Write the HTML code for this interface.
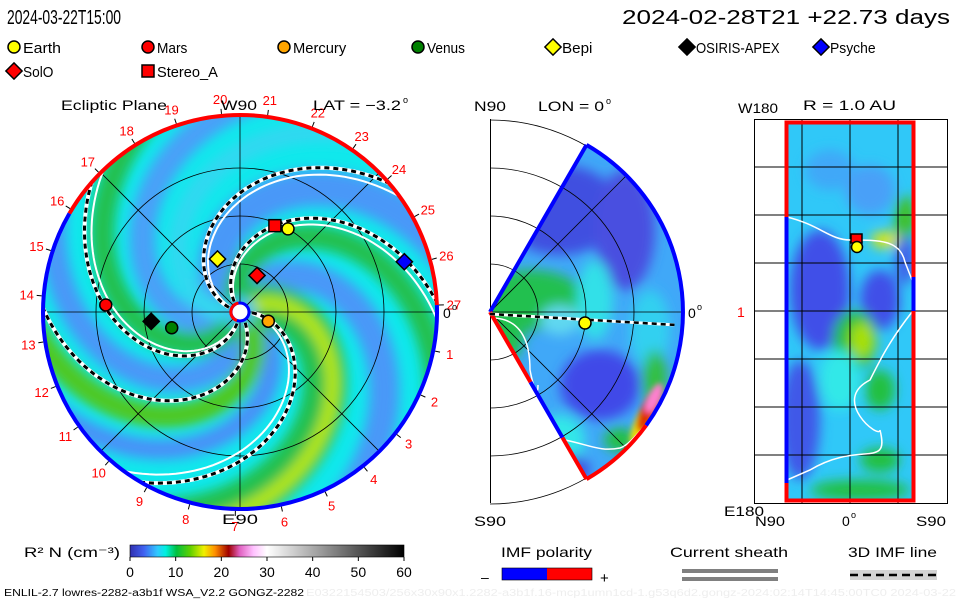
<!DOCTYPE html>
<html><head><meta charset="utf-8">
<style>
html,body{margin:0;padding:0;background:#fff;overflow:hidden;}
svg{display:block;font-family:"Liberation Sans",sans-serif;}
</style></head>
<body>
<svg id="root" width="960" height="600" viewBox="0 0 960 600" xmlns="http://www.w3.org/2000/svg">
<defs>
  <clipPath id="diskClip"><circle cx="240" cy="312" r="197"/></clipPath>
  <clipPath id="wedgeClip"><path id="wedgePathClip" d=""/></clipPath>
  <clipPath id="rectClip"><rect x="785" y="122" width="129" height="379"/></clipPath>
  <filter id="blur6" x="-20%" y="-20%" width="140%" height="140%"><feGaussianBlur stdDeviation="6"/></filter>
  <filter id="blur3" x="-20%" y="-20%" width="140%" height="140%"><feGaussianBlur stdDeviation="3"/></filter>
  <linearGradient id="cbar" x1="0" x2="1" y1="0" y2="0">
    <stop offset="0" stop-color="#3030b0"/>
    <stop offset="0.05" stop-color="#4060f0"/>
    <stop offset="0.1" stop-color="#30c8ff"/>
    <stop offset="0.13" stop-color="#00f0e0"/>
    <stop offset="0.17" stop-color="#00c040"/>
    <stop offset="0.22" stop-color="#60d000"/>
    <stop offset="0.27" stop-color="#f0f000"/>
    <stop offset="0.31" stop-color="#ff9000"/>
    <stop offset="0.36" stop-color="#a00000"/>
    <stop offset="0.40" stop-color="#e060c0"/>
    <stop offset="0.45" stop-color="#ffc0ff"/>
    <stop offset="0.50" stop-color="#ffffff"/>
    <stop offset="1" stop-color="#000000"/>
  </linearGradient>
</defs>

<text x="7" y="24" font-size="20" textLength="114" lengthAdjust="spacingAndGlyphs">2024-03-22T15:00</text>
<text x="622" y="24" font-size="20" textLength="328" lengthAdjust="spacingAndGlyphs">2024-02-28T21 +22.73 days</text>
<g id="legend"></g>

<g id="ecl">
  <g clip-path="url(#diskClip)" id="eclBg">
    <circle cx="240" cy="312" r="197" fill="#10e8ec"/>
    <g id="eclBands" filter="url(#blur6)"></g>
  </g>
  <g id="eclGrid"></g>
  <g id="eclLines" clip-path="url(#diskClip)"></g>
  <g id="eclRim"></g>
  <g id="eclLabels" font-size="13" fill="#f00"></g>
  <g id="eclMarks"></g>
  <text x="61" y="110" font-size="14" textLength="106" lengthAdjust="spacingAndGlyphs">Ecliptic Plane</text>
  <text x="221" y="110" font-size="14" textLength="36" lengthAdjust="spacingAndGlyphs">W90</text>
  <text x="313" y="110" font-size="14" textLength="88" lengthAdjust="spacingAndGlyphs">LAT = −3.2</text>
  <text x="403" y="103" font-size="9">o</text>
  <text x="222" y="524" font-size="14" textLength="36" lengthAdjust="spacingAndGlyphs">E90</text>
  <text x="443" y="318" font-size="14">0</text>
  <text x="452" y="310" font-size="9">o</text>
</g>

<g id="mer">
  <rect x="490" y="119" width="1" height="384" fill="#000"/>
  <g id="merArcs"></g>
  <g clip-path="url(#wedgeClip)">
    <rect x="480" y="120" width="220" height="380" fill="#40a8f8"/>
    <g id="merBlobs" filter="url(#blur6)"></g>
    <g id="merHot" filter="url(#blur3)"></g>
  </g>
  <g id="merGrid" clip-path="url(#wedgeClip)"></g>
  <g id="merRim"></g>
  <text x="474" y="111" font-size="14" textLength="32" lengthAdjust="spacingAndGlyphs">N90</text>
  <text x="538" y="111" font-size="14" textLength="66" lengthAdjust="spacingAndGlyphs">LON = 0</text>
  <text x="606" y="104" font-size="9">o</text>
  <text x="474" y="526" font-size="14" textLength="32" lengthAdjust="spacingAndGlyphs">S90</text>
  <text x="688" y="318" font-size="14">0</text>
  <text x="697" y="310" font-size="9">o</text>
</g>

<g id="ll">
  <rect x="754.5" y="119.5" width="193" height="384" fill="none" stroke="#000"/>
  <g clip-path="url(#rectClip)">
    <rect x="785" y="122" width="129" height="379" fill="#30c8f8"/>
    <g id="llBlobs" filter="url(#blur6)"></g>
  </g>
  <g id="llGrid"></g>
  <g id="llRim"></g>
  <text x="738" y="113" font-size="14" textLength="40" lengthAdjust="spacingAndGlyphs">W180</text>
  <text x="803" y="110" font-size="14" textLength="93" lengthAdjust="spacingAndGlyphs">R = 1.0 AU</text>
  <text x="724" y="516" font-size="14" textLength="40" lengthAdjust="spacingAndGlyphs">E180</text>
  <text x="755" y="526" font-size="14" textLength="30" lengthAdjust="spacingAndGlyphs">N90</text>
  <text x="842" y="526" font-size="14">0</text>
  <text x="851" y="518" font-size="9">o</text>
  <text x="916" y="526" font-size="14" textLength="30" lengthAdjust="spacingAndGlyphs">S90</text>
  <text x="737" y="317" font-size="14" fill="#f00">1</text>
</g>

<g>
  <text x="24" y="557" font-size="14" textLength="96" lengthAdjust="spacingAndGlyphs">R² N (cm⁻³)</text>
  <rect x="130" y="545" width="274" height="12" fill="url(#cbar)" stroke="#000" stroke-width="0.6"/>
  <g id="cbTicks" font-size="14" text-anchor="middle"></g>
</g>

<g>
  <text x="501" y="557" font-size="14" textLength="91" lengthAdjust="spacingAndGlyphs">IMF polarity</text>
  <text x="481" y="582" font-size="14">–</text>
  <rect x="502" y="568" width="45" height="12" fill="#00f"/>
  <rect x="547" y="568" width="45" height="12" fill="#f00"/>
  <rect x="502" y="568" width="90" height="12" fill="none" stroke="#000" stroke-width="0.6"/>
  <text x="600" y="583" font-size="15">+</text>
</g>
<g>
  <text x="670" y="557" font-size="14" textLength="118" lengthAdjust="spacingAndGlyphs">Current sheath</text>
  <rect x="682" y="569" width="96" height="4" fill="#808080"/>
  <rect x="682" y="577" width="96" height="4" fill="#808080"/>
</g>
<g>
  <text x="848" y="557" font-size="14" textLength="89" lengthAdjust="spacingAndGlyphs">3D IMF line</text>
  <rect x="850" y="570" width="87" height="10" fill="#d3d3d3"/>
  <line x1="850" y1="575" x2="937" y2="575" stroke="#000" stroke-width="2.5" stroke-dasharray="8,5"/>
</g>
<text x="4" y="596" font-size="10" textLength="300" lengthAdjust="spacingAndGlyphs">ENLIL-2.7 lowres-2282-a3b1f WSA_V2.2 GONGZ-2282</text>
<text x="306" y="596" font-size="10" fill="#eeeeee" textLength="650" lengthAdjust="spacingAndGlyphs">E0322154503/256x30x90x1.2282-a3b1f.16-mcp1umn1cd-1.g53q6d2.gongz-2024:02:14T14:45:00TC0   2024-03-22</text>
</svg>

<script>
// ---- data ----
const cbTickValues = [0, 10, 20, 30, 40, 50, 60];
const cbMax = 60;
const legendNames = ["Earth","Mars","Mercury","Venus","Bepi","OSIRIS-APEX","Psyche","SolO","Stereo_A"];
const legendShapes = ["circle","circle","circle","circle","diamond","diamond","diamond","diamond","square"];
const legendColors = ["#ffff00","#ff0000","#ffa500","#008000","#ffff00","#000000","#0000ff","#ff0000","#ff0000"];
const bodyRadiusAU = [1.00, 1.40, 0.31, 0.73, 0.60, 0.93, 1.79, 0.42, 0.97];
const bodyAngleDeg = [60, 177, -18, 193, 113, 186, 17, 65, 68];
const rimLabels = [1,2,3,4,5,6,7,8,9,10,11,12,13,14,15,16,17,18,19,20,21,22,23,24,25,26,27];
const eclCirclesAU = [0.5, 1.0, 1.5];
const imfArmStartDeg = [-127, -165, -4, 97, 57];
const sheathArmStartDeg = [-122, -160, 2, 102];
const merCirclesAU = [0.5, 1.0, 1.5, 2.0];

// ---- helpers ----
const NS = "http://www.w3.org/2000/svg";
function mk(tag, attrs, parent){const e=document.createElementNS(NS,tag);for(const k in attrs)e.setAttribute(k,attrs[k]);parent.appendChild(e);return e;}
const CX=240, CY=312, R=197, PXAU=96, K=0.011;
function xAU(rAU,deg){return CX + rAU*PXAU*Math.cos(deg*Math.PI/180);}
function yAU(rAU,deg){return CY - rAU*PXAU*Math.sin(deg*Math.PI/180);}
function spiral(th0deg, r0, r1){
  let d="";
  for(let r=r0;r<=r1;r+=3){const t=th0deg*Math.PI/180 + K*r;d+=(d?"L":"M")+(CX+r*Math.cos(t)).toFixed(1)+","+(CY+r*Math.sin(t)).toFixed(1);}
  return d;
}
function P(cx,cy,r,a){return (cx+r*Math.cos(a*Math.PI/180)).toFixed(1)+","+(cy-r*Math.sin(a*Math.PI/180)).toFixed(1);}
function arcCW(cx,cy,r,a0,a1){return `M${P(cx,cy,r,a0)}A${r},${r} 0 ${(a0-a1)>180?1:0} 1 ${P(cx,cy,r,a1)}`;}

const leg=document.getElementById('legend');
legendNames.forEach((n,i)=>{
  const cols=[14,148,284,418,553,687,821];
  let x,y; if(i<7){x=cols[i];y=47;} else {x=cols[i-7];y=71;}
  const g=mk('g',{},leg);
  
  
  drawMarker(g, legendShapes[i], x, y, legendColors[i], 6);
  const t=mk('text',{x:x+9,y:y+6,'font-size':15},g); t.textContent=n;
  t.setAttribute('textLength', n.length*7.6); t.setAttribute('lengthAdjust','spacingAndGlyphs');
});
function drawMarker(g,shape,x,y,col,s){
  if(shape==='circle') return mk('circle',{cx:x,cy:y,r:s,fill:col,stroke:'#000','stroke-width':1.5},g);
  if(shape==='square') return mk('rect',{x:x-s,y:y-s,width:2*s,height:2*s,fill:col,stroke:'#000','stroke-width':1.5},g);
  const d=s*1.35; return mk('path',{d:`M${x},${y-d}L${x+d},${y}L${x},${y+d}L${x-d},${y}Z`,fill:col,stroke:'#000','stroke-width':1.5},g);
}

const bands=document.getElementById('eclBands');
const bandSpec=[[-150,'#4898f8',36],[-75,'#4898f8',30],[75,'#4898f8',26],[140,'#48a0f8',26],[20,'#4a90f8',20],
  [-30,'#20c050',44],[-112,'#20c050',24],[110,'#20c050',24],[45,'#50c820',24],[-36,'#b8e810',14],[170,'#30d8f0',20]];
bandSpec.forEach(b=>{mk('path',{d:spiral(b[0],0,280),fill:'none',stroke:b[1],'stroke-width':b[2],'stroke-linecap':'round'},bands);});
mk('circle',{cx:CX,cy:CY,r:16,fill:'#40c0f0'},bands);

const eg=document.getElementById('eclGrid');
eclCirclesAU.forEach(a=>mk('circle',{cx:CX,cy:CY,r:a*PXAU,fill:'none',stroke:'#000','stroke-width':0.8},eg));
[0,45,90,135].forEach(a=>{const c=Math.cos(a*Math.PI/180)*R,s=Math.sin(a*Math.PI/180)*R;mk('line',{x1:CX-c,y1:CY+s,x2:CX+c,y2:CY-s,stroke:'#000','stroke-width':0.8},eg);});

const el=document.getElementById('eclLines');
sheathArmStartDeg.forEach(a=>{mk('path',{d:spiral(a,12,260),fill:'none',stroke:'#fff','stroke-width':2},el);});
imfArmStartDeg.forEach(a=>{
  const p=spiral(a,12,260);
  mk('path',{d:p,fill:'none',stroke:'#fff','stroke-width':4},el);
  mk('path',{d:p,fill:'none',stroke:'#000','stroke-width':3,'stroke-dasharray':'5,4'},el);
});

const rim=document.getElementById('eclRim');
mk('path',{d:arcCW(CX,CY,R,150,2),fill:'none',stroke:'#f00','stroke-width':4},rim);
mk('path',{d:arcCW(CX,CY,R,2,-210),fill:'none',stroke:'#00f','stroke-width':4},rim);
mk('circle',{cx:CX,cy:CY,r:9,fill:'#fff',stroke:'#00f','stroke-width':3},rim);
mk('path',{d:arcCW(CX,CY,9,250,100),fill:'none',stroke:'#f00','stroke-width':3},rim);

const lab=document.getElementById('eclLabels');
rimLabels.forEach(n=>{
  const ang=(-n*13.333+2)*Math.PI/180;
  const t=mk('text',{x:(CX+214*Math.cos(ang)).toFixed(1),y:(CY-214*Math.sin(ang)+5).toFixed(1),'text-anchor':'middle'},lab);
  t.textContent=n;
  
  
  mk('line',{x1:CX+199*Math.cos(ang),y1:CY-199*Math.sin(ang),x2:CX+204*Math.cos(ang),y2:CY-204*Math.sin(ang),stroke:'#000','stroke-width':1},lab);
});

const marks=document.getElementById('eclMarks');
legendNames.forEach((n,i)=>{
  const m=drawMarker(marks,legendShapes[i],xAU(bodyRadiusAU[i],bodyAngleDeg[i]),yAU(bodyRadiusAU[i],bodyAngleDeg[i]),legendColors[i],6);
  
  
});

const MX=490,MY=312,MR=193;
const wedge=`M${MX},${MY}L${P(MX,MY,MR,60)}A${MR},${MR} 0 0 1 ${P(MX,MY,MR,-60)}Z`;
document.getElementById('wedgePathClip').setAttribute('d',wedge);
const ma=document.getElementById('merArcs');
merCirclesAU.forEach(a=>mk('path',{d:arcCW(MX,MY,a*PXAU,90,-90),fill:'none',stroke:'#000','stroke-width':0.8},ma));
const mb=document.getElementById('merBlobs');
[[560,210,60,45,'#4050e0'],[625,230,30,60,'#4850e0'],[530,300,55,30,'#20c050'],[500,330,25,35,'#20c050'],[560,320,20,15,'#60d8f0'],
 [595,300,18,40,'#30e0e8'],[650,330,20,40,'#30d0f0'],[600,385,40,35,'#4048e8'],[560,440,25,25,'#30e8e8'],[570,470,20,15,'#4050e0'],
 [620,440,16,12,'#20c040'],[655,380,12,30,'#30c040']].forEach(b=>mk('ellipse',{cx:b[0],cy:b[1],rx:b[2],ry:b[3],fill:b[4]},mb));
const mh=document.getElementById('merHot');
[[645,420,9,30,'#f0e000'],[650,408,8,26,'#e03000'],[654,398,6,16,'#ff80d0']].forEach(b=>mk('ellipse',{cx:b[0],cy:b[1],rx:b[2],ry:b[3],fill:b[4],transform:`rotate(25 ${b[0]} ${b[1]})`},mh));
const mg=document.getElementById('merGrid');
merCirclesAU.forEach(a=>mk('circle',{cx:MX,cy:MY,r:a*PXAU,fill:'none',stroke:'#000','stroke-width':0.8},mg));
[45,-45].forEach(a=>{mk('path',{d:`M${MX},${MY}L${P(MX,MY,MR,a)}`,stroke:'#000','stroke-width':0.8},mg);});
mk('line',{x1:MX,y1:MY,x2:700,y2:MY,stroke:'#000','stroke-width':0.8},mg);
mk('path',{d:'M495,318C520,320 530,340 530,370C535,395 538,395 538,385',fill:'none',stroke:'#fff','stroke-width':1.5},mg);
mk('path',{d:'M565,440C590,445 600,452 620,448C630,445 640,430 650,420',fill:'none',stroke:'#fff','stroke-width':1.5},mg);
const mr=document.getElementById('merRim');
mk('path',{d:`M${P(MX,MY,MR,60)}L${MX},${MY}`,stroke:'#00f','stroke-width':4,fill:'none'},mr);
mk('path',{d:`M${MX},${MY}L${P(MX,MY,81,-60)}`,stroke:'#f00','stroke-width':4,fill:'none'},mr);
mk('path',{d:`M${P(MX,MY,81,-60)}L${P(MX,MY,145,-60)}`,stroke:'#00f','stroke-width':4,fill:'none'},mr);
mk('path',{d:`M${P(MX,MY,145,-60)}L${P(MX,MY,MR,-60)}`,stroke:'#f00','stroke-width':4,fill:'none'},mr);
mk('path',{d:arcCW(MX,MY,MR,60,-36),stroke:'#00f','stroke-width':4,fill:'none'},mr);
mk('path',{d:arcCW(MX,MY,MR,-36,-60),stroke:'#f00','stroke-width':4,fill:'none'},mr);
mk('path',{d:`M${MX},${MY+2}L${P(MX,MY,MR-8,-4)}`,stroke:'#fff','stroke-width':3,fill:'none'},mr);
mk('path',{d:`M${MX},${MY+2}L${P(MX,MY,MR-8,-4)}`,stroke:'#000','stroke-width':2.5,'stroke-dasharray':'5,4',fill:'none'},mr);
mk('circle',{cx:585,cy:323,r:6,fill:'#ff0',stroke:'#000','stroke-width':1.5},mr);

const lb=document.getElementById('llBlobs');
[[820,290,30,60,'#4050e8'],[800,420,20,60,'#4058e8'],[880,300,20,30,'#4050e8'],[870,190,25,25,'#48a0f8'],[855,340,22,30,'#20c040'],[862,340,12,18,'#a8e000'],[880,390,15,20,'#20c040'],[885,240,14,8,'#e8e800'],[905,220,10,25,'#40c020'],[880,460,20,12,'#20c040'],[860,490,50,10,'#20c040'],[905,260,10,25,'#4060e8'],[830,170,25,20,'#40a8f8'],[840,380,20,30,'#30e8e8']].forEach(b=>mk('ellipse',{cx:b[0],cy:b[1],rx:b[2],ry:b[3],fill:b[4]},lb));
const lg=document.getElementById('llGrid');
[802,850,898].forEach(x=>mk('line',{x1:x,y1:119,x2:x,y2:503,stroke:'#000','stroke-width':1},lg));
[167,215,263,311,359,407,455].forEach(y=>mk('line',{x1:754,y1:y,x2:947,y2:y,stroke:'#000','stroke-width':1},lg));
mk('path',{d:'M787,217C820,225 830,240 850,240C880,240 900,240 905,262L912,280',fill:'none',stroke:'#fff','stroke-width':1.5},lg);
mk('path',{d:'M912,312C890,340 880,360 870,380C830,400 880,440 880,430C890,470 860,440 810,470L787,480',fill:'none',stroke:'#fff','stroke-width':1.5},lg);
const lr=document.getElementById('llRim');
mk('rect',{x:786.5,y:122.5,width:127,height:378,fill:'none',stroke:'#f00','stroke-width':4},lr);
mk('line',{x1:786.5,y1:217,x2:786.5,y2:483,stroke:'#00f','stroke-width':4},lr);
mk('line',{x1:913.5,y1:277,x2:913.5,y2:311,stroke:'#00f','stroke-width':4},lr);
mk('rect',{x:851,y:234,width:11,height:9,fill:'#f00',stroke:'#000','stroke-width':1.5},lr);
mk('circle',{cx:857,cy:247,r:5.5,fill:'#ff0',stroke:'#000','stroke-width':1.5},lr);

const cbt=document.getElementById('cbTicks');
cbTickValues.forEach(v=>{
  const x=130+v/cbMax*274;
  mk('line',{x1:x,y1:557,x2:x,y2:561,stroke:'#000'},cbt);
  const t=mk('text',{x:x,y:577},cbt); t.textContent=v;
  
  
});
</script>
</body></html>
